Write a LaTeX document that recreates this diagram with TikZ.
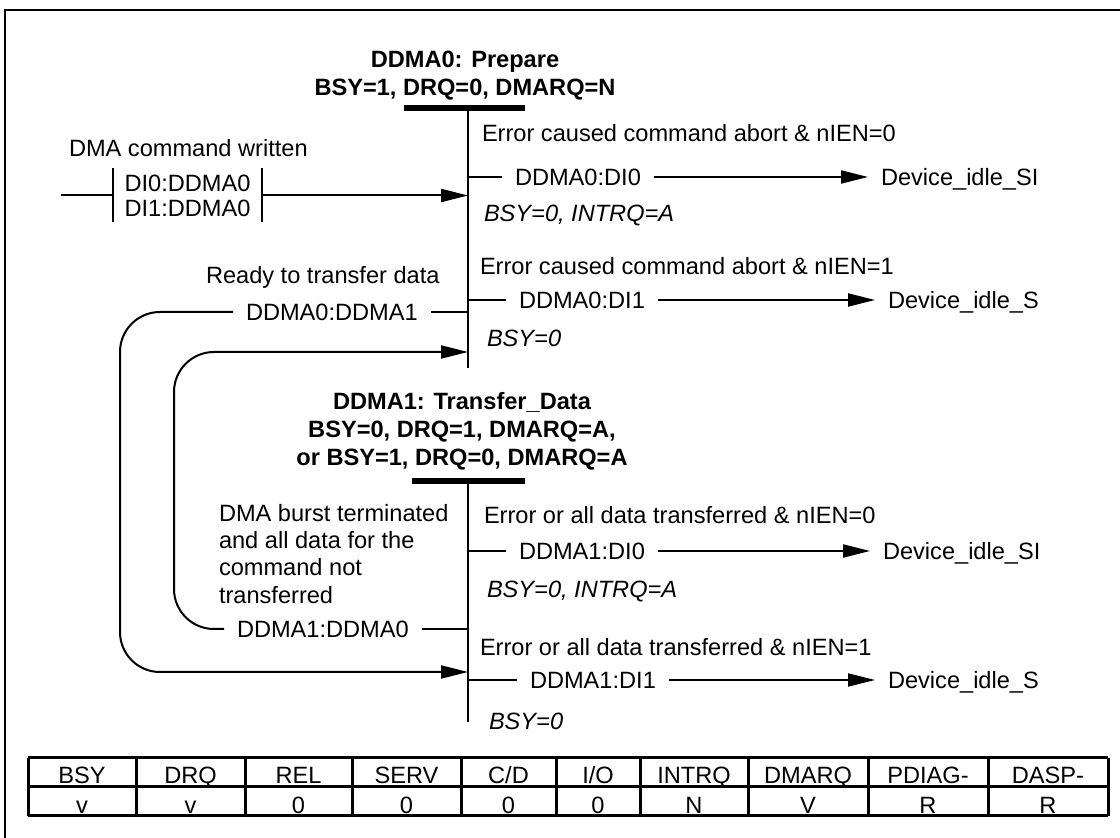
\documentclass[tikz,border=0pt]{standalone}
\usepackage{fontspec}
\setmainfont{Liberation Sans}
\usetikzlibrary{arrows.meta}

\tikzset{
  txt/.style={anchor=west,inner xsep=6pt,inner ysep=0pt,text height=8.5pt,text depth=0pt},
  cond/.style={txt,font=\fontsize{11.8}{14}\selectfont\itshape},
  head/.style={align=center,inner sep=0pt,font=\fontsize{11.8}{14}\selectfont\bfseries},
  bar/.style={line width=3pt},
  trans/.style={-{Triangle[length=13.5pt,width=6.5pt]}},
  cell/.style={inner sep=0pt,text height=8.5pt,text depth=0pt},
  grid/.style={line width=1.5pt}
}

\begin{document}
\begin{tikzpicture}[x=0.5pt,y=-0.5pt,line width=1pt,font=\fontsize{11.8}{14}\selectfont]
\useasboundingbox (0,0) rectangle (1120,838);
\draw (5,838) -- (5,10) -- (1120,10);

\node[head] (s0) at (465,76) {DDMA0: Prepare\\BSY=1, DRQ=0, DMARQ=N};
\draw[bar] (404,108) -- (525,108);
\coordinate (s0top) at (468,108);
\coordinate (s0bot) at (468,368);
\draw (s0top) -- (s0bot);

\node[txt] (c00) at (469,133) {Error caused command abort \& nIEN=0};
\node[txt] (t00) at (502,177) {DDMA0:DI0};
\node[txt] (d00) at (868,177) {Device\_idle\_SI};
\node[cond] (b00) at (471,213) {BSY=0, INTRQ=A};
\node[txt] (c01) at (467,266) {Error caused command abort \& nIEN=1};
\node[txt] (t01) at (506,300) {DDMA0:DI1};
\node[txt] (d01) at (875,300) {Device\_idle\_S};
\node[cond] (b01) at (474,338) {BSY=0};
\draw (t00.west -| s0top) -- (t00.west);
\draw[trans] (t00) -- (d00);
\draw (t01.west -| s0top) -- (t01.west);
\draw[trans] (t01) -- (d01);

\node[txt] (wr) at (56,148) {DMA command written};
\node[minimum width=73.5pt,minimum height=26pt,align=left,inner sep=0pt,font=\fontsize{11.8}{12.5}\selectfont] (di) at (187.5,195.5) {DI0:DDMA0\\DI1:DDMA0};
\draw (di.north west) -- (di.south west) (di.north east) -- (di.south east);
\coordinate (cmd) at (61,195.5);
\draw (cmd) -- (di);
\draw[trans] (di) -- (di -| s0top);

\node[txt] (rdy) at (193,275) {Ready to transfer data};
\node[txt] (r01) at (233,312) {DDMA0:DDMA1};
\draw (r01) -- (r01 -| s0top);

\node[head] (s1) at (462,431) {DDMA1: Transfer\_Data\\BSY=0, DRQ=1, DMARQ=A,\\or BSY=1, DRQ=0, DMARQ=A};
\draw[bar] (412,481) -- (525,481);
\coordinate (s1top) at (468,481);
\coordinate (s1bot) at (468,722);
\draw (s1top) -- (s1bot);
\coordinate (e0) at (468,352);
\coordinate (e1) at (468,672);

\node[anchor=north west,align=left,inner sep=0pt,font=\fontsize{11.8}{13.7}\selectfont] (brst) at (218,503) {DMA burst terminated\\and all data for the\\command not\\transferred};
\node[txt] (c10) at (471,515) {Error or all data transferred \& nIEN=0};
\node[txt] (t10) at (506,551) {DDMA1:DI0};
\node[txt] (d10) at (870,551) {Device\_idle\_SI};
\node[cond] (b10) at (474,589) {BSY=0, INTRQ=A};
\node[txt] (c11) at (467,647) {Error or all data transferred \& nIEN=1};
\node[txt] (t11) at (517,680) {DDMA1:DI1};
\node[txt] (d11) at (875,680) {Device\_idle\_S};
\node[cond] (b11) at (476,721) {BSY=0};
\draw (t10.west -| s1top) -- (t10.west);
\draw[trans] (t10) -- (d10);
\draw (t11.west -| s1top) -- (t11.west);
\draw[trans] (t11) -- (d11);

\node[txt] (r10) at (224,629) {DDMA1:DDMA0};
\draw (r10) -- (r10 -| s1top);

\draw[trans,rounded corners=20pt] (r01.west) -| (120,500) |- (e1);
\draw[trans,rounded corners=20pt] (r10.west) -| (174,500) |- (e0);

\foreach \x in {28,136,245,352,461,556,640,748,868,988,1108}
  \draw[grid] (\x,758) -- (\x,816);
\foreach \y in {758,787,816}
  \draw[grid] (28,\y) -- (1108,\y);
\foreach \cx/\h/\v [count=\i] in {82/BSY/v,190.5/DRQ/v,298.5/REL/0,406.5/SERV/0,508.5/{C/D}/0,598/{I/O}/0,694/INTRQ/N,808/DMARQ/V,928/PDIAG-/R,1048/DASP-/R}
{
  \node[cell] (h\i) at (\cx,775) {\h};
  \node[cell] (v\i) at (\cx,805) {\v};
}
\end{tikzpicture}
\end{document}
